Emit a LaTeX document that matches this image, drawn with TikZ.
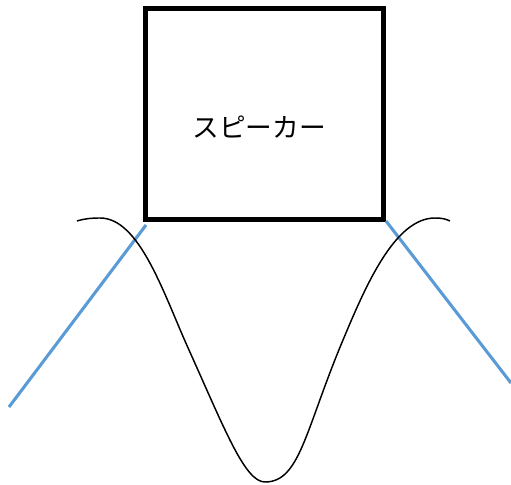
\documentclass[tikz,border=0pt]{standalone}
\usepackage{fontspec}
\newfontfamily\cjk{Noto Sans CJK JP}
\definecolor{lineblue}{HTML}{5B9BD5}
\begin{document}
\begin{tikzpicture}[x=0.75pt,y=-0.75pt,
  boxstyle/.style={draw=black,line width=3.75pt,minimum width=178.5pt,minimum height=157.5pt,inner sep=0pt},
  wave/.style={draw=black,line width=1.1pt},
  ray/.style={draw=lineblue,line width=2.3pt}]
\useasboundingbox (0,0) rectangle (511,485);
\node[boxstyle] (spk) at (264.5,114) {};
\node[font=\cjk\fontsize{20pt}{24pt}\selectfont] (lbl) at (259,127) {スピーカー};
\coordinate (l1) at (146,225);
\coordinate (l2) at (9,407);
\coordinate (r1) at (386,221);
\coordinate (r2) at (511,383);
\draw[ray] (l1) -- (l2);
\draw[ray] (r1) -- (r2);
\draw[wave] (77,221) .. controls (85,218.5) and (92,218) .. (100,218)
  .. controls (140,218) and (164,295) .. (189,350)
  .. controls (225,430) and (245,482) .. (265,482)
  .. controls (300,482) and (305.2,430) .. (343,340)
  .. controls (366,285) and (395,218) .. (435,218)
  .. controls (442,218) and (446,219) .. (450,221);
\end{tikzpicture}
\end{document}
